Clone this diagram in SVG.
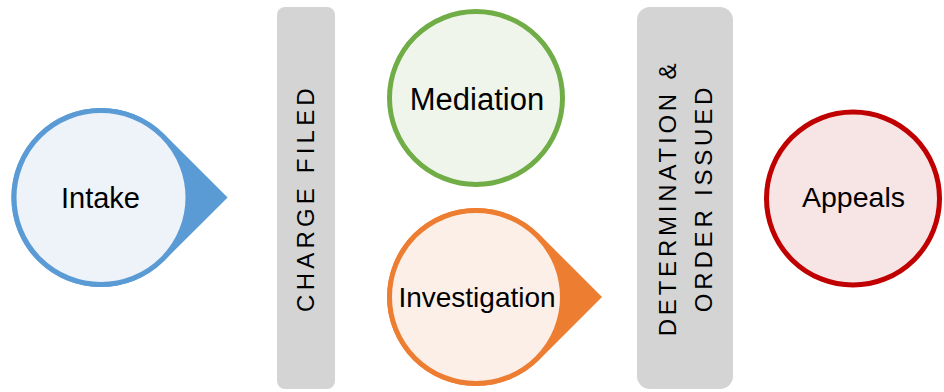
<svg xmlns="http://www.w3.org/2000/svg" width="944" height="392" viewBox="0 0 944 392">
  <style>
    .label { font-family: "Liberation Sans", Arial, sans-serif; fill: #000000; text-anchor: middle; }
    .stage { fill: #D4D4D4; }
    .stage-text { font-family: "Liberation Sans", Arial, sans-serif; font-size: 24px; fill: #000000; text-anchor: middle; }
    .ring { stroke-width: 5; }
    .blue { stroke: #5B9BD5; fill: #EEF3FA; }
    .green { stroke: #70AD47; fill: #F0F5EC; }
    .orange { stroke: #ED7D31; fill: #FCEFE8; }
    .red { stroke: #C00000; fill: #F7E4E5; }
  </style>

  <rect width="944" height="392" fill="#FFFFFF"/>

  <!-- Intake: circle with a pointer to the right -->
  <g id="intake">
    <path d="M164 134.1 A89.5 89.5 0 1 0 164 260.9 L227.6 197.5 Z" fill="#5B9BD5"/>
    <circle class="ring blue" cx="101" cy="197.5" r="87"/>
    <text class="label" x="100.5" y="208" font-size="29">Intake</text>
  </g>

  <!-- Stage bar: charge filed -->
  <g id="charge-filed">
    <rect class="stage" x="277" y="7" width="58" height="382" rx="8"/>
    <text class="stage-text" transform="translate(314 198) rotate(-90)" letter-spacing="4.2">CHARGE FILED</text>
  </g>

  <!-- Mediation -->
  <g id="mediation">
    <circle class="ring green" cx="476" cy="98" r="86.5"/>
    <text class="label" x="477" y="110" font-size="31">Mediation</text>
  </g>

  <!-- Investigation: circle with a pointer to the right -->
  <g id="investigation">
    <path d="M539 234 A89 89 0 1 0 539 360 L602 297 Z" fill="#ED7D31"/>
    <circle class="ring orange" cx="476" cy="297" r="86.5"/>
    <text class="label" x="477" y="307" font-size="28">Investigation</text>
  </g>

  <!-- Stage bar: determination and order issued -->
  <g id="determination">
    <rect class="stage" x="637" y="7" width="96" height="382" rx="13"/>
    <text class="stage-text" transform="translate(676 198) rotate(-90)" letter-spacing="3.8">DETERMINATION &amp;</text>
    <text class="stage-text" transform="translate(712 198) rotate(-90)" letter-spacing="3.8">ORDER ISSUED</text>
  </g>

  <!-- Appeals -->
  <g id="appeals">
    <circle class="ring red" cx="853" cy="198.5" r="86.5"/>
    <text class="label" x="853.5" y="207" font-size="28.5">Appeals</text>
  </g>

  <g id="connectors"/>
</svg>
